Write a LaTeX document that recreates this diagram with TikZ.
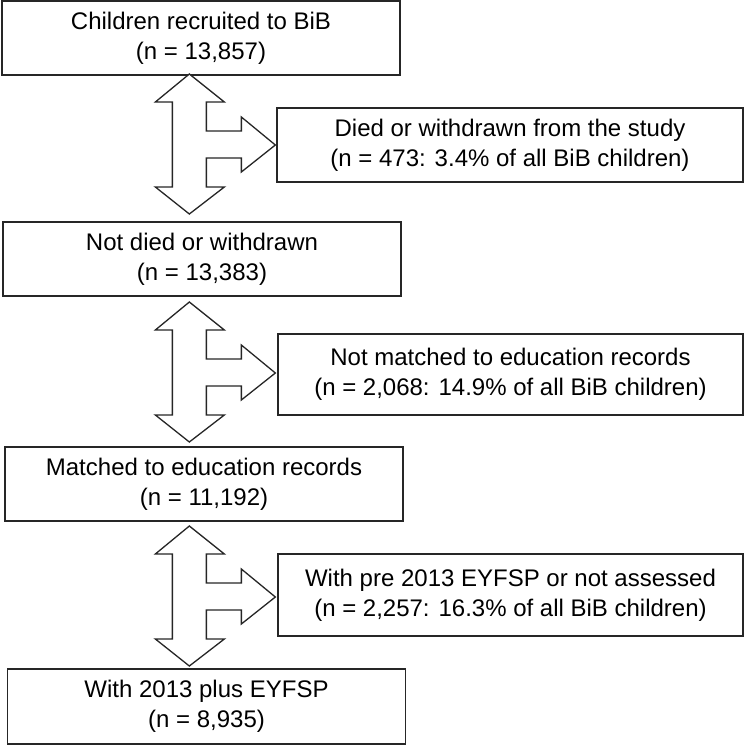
\documentclass[tikz,border=0pt]{standalone}
\usepackage{fontspec}
\setmainfont{Liberation Sans}
\usetikzlibrary{
    positioning,
    calc
}

\begin{document}
\begin{tikzpicture}[
    x=1pt,
    y=-1pt,
    font=\fontsize{24}{30}\selectfont,
    stage/.style={
        rectangle,
        draw=black!85,
        line width=1.3pt,
        align=center,
        minimum width=398pt,
        minimum height=74pt,
        inner sep=0pt,
        fill=white
    },
    excluded/.style={
        stage,
        minimum width=466pt
    },
    splitarrow/.pic={
        \draw[line width=1.3pt, draw=black!85, fill=white, line join=miter]
            (0,-71) -- (35,-43) -- (17,-43) -- (17,-14) -- (52,-14)
            -- (52,-28) -- (86,0) -- (52,27) -- (52,13) -- (17,13)
            -- (17,42) -- (35,42) -- (0,69) -- (-34,42) -- (-17,42)
            -- (-17,-43) -- (-34,-43) -- cycle;
    }
]

\useasboundingbox (0,0) rectangle (744,745);

% =========================================================
% Main cohort stages
% =========================================================
\node[stage] (recruited) at (201,38)
{Children recruited to BiB\\(n = 13,857)};

\node[stage] (notdied) at (202,259)
{Not died or withdrawn\\(n = 13,383)};

\node[stage] (matched) at (204,484)
{Matched to education records\\(n = 11,192)};

\node[stage, minimum height=75pt] (with2013) at (206.5,706.5)
{With 2013 plus EYFSP\\(n = 8,935)};

% =========================================================
% Exclusions
% =========================================================
\node[excluded] (died) at (510,145)
{Died or withdrawn from the study\\(n = 473: 3.4\% of all BiB children)};

\node[excluded, minimum width=465pt, minimum height=81pt] (notmatched) at (510.5,374.5)
{Not matched to education records\\(n = 2,068: 14.9\% of all BiB children)};

\node[excluded, minimum width=465pt, minimum height=82pt] (pre2013) at (510.5,595)
{With pre 2013 EYFSP or not assessed\\(n = 2,257: 16.3\% of all BiB children)};

% =========================================================
% Split arrows
% =========================================================
\pic at ($(died.west)+(-87,0)$) {splitarrow};
\pic at ($(notmatched.west)+(-88,-1.5)$) {splitarrow};
\pic at ($(pre2013.west)+(-88,2)$) {splitarrow};

\end{tikzpicture}
\end{document}
